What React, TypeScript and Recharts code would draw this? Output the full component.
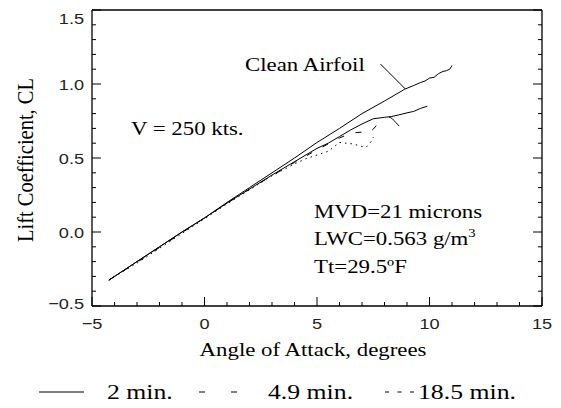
import { LineChart, Line, XAxis, YAxis, ReferenceLine } from "recharts";

// axis ticks
const xTicks = [-5, 0, 5, 10, 15];
const yTicks = [-0.5, 0, 0.5, 1.0, 1.5];
const xMinor = [-4, -3, -2, -1, 1, 2, 3, 4, 6, 7, 8, 9, 11, 12, 13, 14];
const yMinor = [-0.4, -0.3, -0.2, -0.1, 0.1, 0.2, 0.3, 0.4, 0.6, 0.7, 0.8, 0.9, 1.1, 1.2, 1.3, 1.4];

// Clean airfoil
const cleanAlpha = [-4.25, -3, -2, -1, 0, 1, 2, 3, 4, 5, 6, 7, 8, 8.9, 9.3, 9.6, 9.8, 10.0, 10.2, 10.4, 10.6, 10.75, 10.9, 11.0];
const cleanCl = [-0.325, -0.2, -0.1, 0.0, 0.095, 0.2, 0.3, 0.4, 0.5, 0.605, 0.7, 0.8, 0.885, 0.965, 0.99, 1.01, 1.02, 1.04, 1.045, 1.07, 1.085, 1.09, 1.1, 1.125];

// 2 min. (solid)
const min2Alpha = [-4.25, -3, -2, -1, 0, 1, 2, 3, 4, 5, 5.5, 6, 6.5, 7, 7.5, 8, 8.3, 8.6, 9.0, 9.3, 9.6, 9.9];
const min2Cl = [-0.325, -0.2, -0.1, 0.0, 0.095, 0.195, 0.29, 0.385, 0.475, 0.565, 0.6, 0.645, 0.69, 0.73, 0.765, 0.775, 0.78, 0.79, 0.805, 0.815, 0.835, 0.85];
const hookAlpha = [8.2, 8.35, 8.5, 8.65];
const hookCl = [0.777, 0.765, 0.74, 0.716];

// 4.9 min. (dashed)
const min49Alpha = [-4.25, -3, -2, -1, 0, 1, 2, 3, 4, 5, 5.5, 6, 6.3, 6.6, 7.0, 7.3, 7.5, 7.7];
const min49Cl = [-0.325, -0.205, -0.105, -0.005, 0.095, 0.195, 0.29, 0.38, 0.47, 0.555, 0.595, 0.635, 0.655, 0.67, 0.675, 0.668, 0.695, 0.73];

// 18.5 min. (dotted)
const min185Alpha = [-4.25, -3, -2, -1, 0, 1, 2, 3, 4, 4.5, 5, 5.5, 6.0, 6.3, 6.6, 7.0, 7.2, 7.4, 7.5];
const min185Cl = [-0.325, -0.21, -0.11, -0.01, 0.09, 0.19, 0.285, 0.38, 0.46, 0.495, 0.52, 0.545, 0.605, 0.6, 0.595, 0.578, 0.575, 0.61, 0.64];

const toPoints = (xs: number[], ys: number[]) => xs.map((a, i) => ({ alpha: a, cl: ys[i] }));

const xAll = [...xTicks, ...xMinor];
const yAll = [...yTicks, ...yMinor];

const W = 561;
const H = 408;
const PLOT = { left: 92, right: 542, top: 10, bottom: 306 };
const X_AXIS_H = 30;
const Y_AXIS_W = 60;
const SIDE = 10; // size of the mirrored top/right axes
const MAJOR = 9;
const MINOR = 4;
const STRETCH = 1.17;
const SERIF = "'Liberation Serif', 'Times New Roman', serif";
const SANS = "'Liberation Sans', Arial, sans-serif";
const AXIS = { stroke: "#000", strokeWidth: 1.3 };

const isMajor = (list: number[], v: number) => list.some((t) => Math.abs(t - v) < 1e-6);
const fmtX = (v: number) => (v < 0 ? `\u2212${Math.abs(v)}` : `${v}`);
const fmtY = (v: number) => (v < 0 ? `\u2212${Math.abs(v).toFixed(1)}` : v.toFixed(1));
// end labels are nudged inside the frame, as in the original
const yLabelShift = (v: number) => (v >= 1.5 ? 8 : v <= -0.5 ? -3 : 0);

const BottomTick = ({ x, y, payload }: any) => {
	const major = isMajor(xTicks, payload.value);
	return (
		<g>
			<line x1={x} x2={x} y1={y} y2={y - (major ? MAJOR : MINOR)} stroke="#000" strokeWidth={1} />
			{major && (
				<text
					transform={`translate(${x},${y + 23}) scale(${STRETCH},1)`}
					textAnchor="middle"
					fontFamily={SANS}
					fontSize={15.5}
					fill="#222"
				>
					{fmtX(payload.value)}
				</text>
			)}
		</g>
	);
};

const TopTick = ({ x, y, payload }: any) => {
	const major = isMajor(xTicks, payload.value);
	return <line x1={x} x2={x} y1={y} y2={y + (major ? MAJOR : MINOR)} stroke="#000" strokeWidth={1} />;
};

const LeftTick = ({ x, y, payload }: any) => {
	const major = isMajor(yTicks, payload.value);
	return (
		<g>
			<line x1={x} x2={x + (major ? MAJOR : MINOR)} y1={y} y2={y} stroke="#000" strokeWidth={1} />
			{major && (
				<text
					transform={`translate(${x - 8},${y + 5.5 + yLabelShift(payload.value)}) scale(${STRETCH},1)`}
					textAnchor="end"
					fontFamily={SANS}
					fontSize={15.5}
					fill="#222"
				>
					{fmtY(payload.value)}
				</text>
			)}
		</g>
	);
};

const RightTick = ({ x, y, payload }: any) => {
	const major = isMajor(yTicks, payload.value);
	return <line x1={x} x2={x - (major ? MAJOR : MINOR)} y1={y} y2={y} stroke="#000" strokeWidth={1} />;
};

const Stretched = ({ x, y, size, children, anchor = "start" }: any) => (
	<text
		transform={`translate(${x},${y}) scale(${STRETCH},1)`}
		textAnchor={anchor}
		fontFamily={SERIF}
		fontSize={size}
		fill="#000"
	>
		{children}
	</text>
);

const lineProps = { stroke: "#000", strokeWidth: 1, dot: false, type: "linear" as const, isAnimationActive: false };

export default function App() {
	return (
		<div style={{ position: "absolute", left: 0, top: 0, width: W, height: H, background: "#fff" }}>
			<LineChart
				width={W}
				height={H}
				margin={{
					top: PLOT.top - SIDE,
					right: W - PLOT.right - SIDE,
					bottom: H - PLOT.bottom - X_AXIS_H,
					left: PLOT.left - Y_AXIS_W,
				}}
			>
				<XAxis dataKey="alpha" type="number" domain={[-5, 15]} ticks={xAll} interval={0} allowDataOverflow
					height={X_AXIS_H} tickSize={0} tickMargin={0} tickLine={false} axisLine={AXIS} tick={<BottomTick />} />
				<XAxis xAxisId="top" orientation="top" type="number" domain={[-5, 15]} ticks={xAll} interval={0} allowDataOverflow
					height={SIDE} tickSize={0} tickMargin={0} tickLine={false} axisLine={AXIS} tick={<TopTick />} />
				<YAxis dataKey="cl" type="number" domain={[-0.5, 1.5]} ticks={yAll} interval={0} allowDataOverflow
					width={Y_AXIS_W} tickSize={0} tickMargin={0} tickLine={false} axisLine={AXIS} tick={<LeftTick />} />
				<YAxis yAxisId="right" orientation="right" type="number" domain={[-0.5, 1.5]} ticks={yAll} interval={0} allowDataOverflow
					width={SIDE} tickSize={0} tickMargin={0} tickLine={false} axisLine={AXIS} tick={<RightTick />} />

				<ReferenceLine
					segment={[
						{ x: 7.82, y: 1.135 },
						{ x: 8.93, y: 0.966 },
					]}
					stroke="#000"
					strokeWidth={1}
				/>
				<Line data={toPoints(cleanAlpha, cleanCl)} dataKey="cl" {...lineProps} />
				<Line data={toPoints(min2Alpha, min2Cl)} dataKey="cl" {...lineProps} />
				<Line data={toPoints(hookAlpha, hookCl)} dataKey="cl" {...lineProps} type="monotone" />
				<Line data={toPoints(min49Alpha, min49Cl)} dataKey="cl" {...lineProps} strokeDasharray="6 12" />
				<Line data={toPoints(min185Alpha, min185Cl)} dataKey="cl" {...lineProps} strokeDasharray="1.5 4" />
			</LineChart>
			<svg width={W} height={H} style={{ position: "absolute", left: 0, top: 0, pointerEvents: "none" }}>
				<Stretched x={245} y={71} size={19.5}>Clean Airfoil</Stretched>
				<Stretched x={131} y={135} size={19.5}>V = 250 kts.</Stretched>
				<Stretched x={314} y={218} size={19.5}>MVD=21 microns</Stretched>
				<Stretched x={314} y={245} size={19.5}>
					LWC=0.563 g/m<tspan dy={-8} fontSize={12.5}>3</tspan>
				</Stretched>
				<Stretched x={314} y={273} size={19.5}>Tt=29.5ºF</Stretched>
				<Stretched x={313} y={356} size={19.5} anchor="middle">Angle of Attack, degrees</Stretched>
				<text
					transform={`translate(33,160) scale(${STRETCH},1) rotate(-90)`}
					textAnchor="middle"
					fontFamily={SERIF}
					fontSize={20.5}
					fill="#000"
				>
					Lift Coefficient, CL
				</text>
				{/* legend */}
				<line x1={39} x2={84} y1={392} y2={392} stroke="#000" strokeWidth={1} />
				<Stretched x={107} y={399} size={22}>2 min.</Stretched>
				<line x1={199} x2={243} y1={392} y2={392} stroke="#000" strokeWidth={1} strokeDasharray="6 26" />
				<Stretched x={268} y={399} size={22}>4.9 min.</Stretched>
				<line x1={385} x2={414} y1={392} y2={392} stroke="#000" strokeWidth={1} strokeDasharray="4 8.5" />
				<Stretched x={418} y={399} size={22}>18.5 min.</Stretched>
			</svg>
		</div>
	);
}
